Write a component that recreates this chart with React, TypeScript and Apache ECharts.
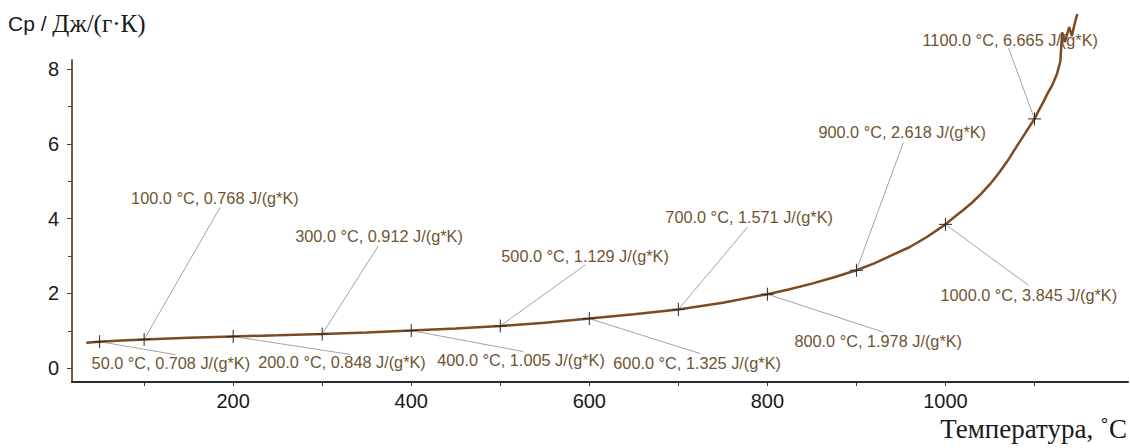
import React, { useEffect, useRef } from "react";
import * as echarts from "echarts";

// Measured heat capacity curve (temperature °C, Cp J/(g·K))
const temps = [35, 50, 75, 100, 150, 200, 250, 300, 350, 400, 450, 500, 550, 600, 650, 700, 750, 800, 825, 850, 875, 900, 920, 940, 960, 980, 1000, 1010, 1020, 1030, 1040, 1050, 1060, 1070, 1080, 1090, 1100, 1105, 1110, 1115, 1120, 1125, 1129, 1131, 1134, 1136, 1139, 1142, 1145, 1148];
const cpValues = [0.68, 0.708, 0.74, 0.768, 0.81, 0.848, 0.878, 0.912, 0.955, 1.005, 1.06, 1.129, 1.215, 1.325, 1.44, 1.571, 1.75, 1.978, 2.11, 2.26, 2.43, 2.618, 2.8, 3.02, 3.24, 3.52, 3.845, 4.04, 4.23, 4.43, 4.66, 4.92, 5.22, 5.55, 5.93, 6.3, 6.665, 6.9, 7.12, 7.36, 7.57, 7.85, 8.2, 8.98, 8.72, 8.88, 9.12, 8.88, 9.2, 9.47];

// Annotated points
const annoTemps = [50, 100, 200, 300, 400, 500, 600, 700, 800, 900, 1000, 1100];
const annoCp = [0.708, 0.768, 0.848, 0.912, 1.005, 1.129, 1.325, 1.571, 1.978, 2.618, 3.845, 6.665];

// Axis ticks / labels
const xTickValues = [100, 200, 300, 400, 500, 600, 700, 800, 900, 1000, 1100];
const xLabelValues = [200, 400, 600, 800, 1000];
const yMajorValues = [0, 2, 4, 6, 8];
const yMinorValues = [1, 3, 5, 7];

// Label layout (pixel offsets from the marker): leader end dx, dy; text left dx, middle dy
const annoLayout = [
  [76, 13, -8, 21],
  [76, -132, -13, -141],
  [117, 18, 25, 26],
  [56, -88, -27, -98],
  [112, 21, 26, 29],
  [85, -61, 1, -70],
  [111, 35, 24, 44],
  [69, -82, -13, -92],
  [116, 38, 27, 47],
  [47, -128, -38, -138],
  [83, 61, -5, 71],
  [-26, -71, -112, -79],
];

const SANS = "'Liberation Sans', Arial, sans-serif";
const SERIF = "'Liberation Serif', 'Times New Roman', serif";

export default function App() {
  const ref = useRef<HTMLDivElement>(null);
  useEffect(() => {
    if (!ref.current) return;
    const chart = echarts.init(ref.current, undefined, { renderer: "svg" });
    const curve = temps.map((t, i) => [t, cpValues[i]]);
    const anno = annoTemps.map((t, i) => [t, annoCp[i]]);
    chart.setOption({
      animation: false,
      backgroundColor: "#ffffff",
      grid: { left: 72, right: 2, top: 60, bottom: 66, containLabel: false },
      xAxis: {
        type: "value",
        min: 19,
        max: 1205,
        axisLine: { show: true, onZero: false, lineStyle: { color: "#2a2a2a", width: 2 } },
        axisTick: { show: true, customValues: xTickValues, length: 4, lineStyle: { color: "#333", width: 1 } },
        axisLabel: {
          customValues: xLabelValues,
          formatter: (v: number) => String(v),
          fontSize: 20,
          color: "#1a1a1a",
          fontFamily: SANS,
          margin: 9,
        },
        splitLine: { show: false },
      },
      yAxis: [
        {
          type: "value",
          position: "left",
          min: -0.37,
          max: 8.24,
          axisLine: { show: true, onZero: false, lineStyle: { color: "#7d5d33", width: 2 } },
          axisTick: { show: true, customValues: yMajorValues, length: 5, lineStyle: { color: "#444", width: 1 } },
          axisLabel: {
            customValues: yMajorValues,
            formatter: (v: number) => String(v),
            fontSize: 20,
            color: "#1a1a1a",
            fontFamily: SANS,
            margin: 13,
          },
          splitLine: { show: false },
        },
        {
          type: "value",
          position: "left",
          min: -0.37,
          max: 8.24,
          axisLine: { show: false, onZero: false },
          axisTick: { show: true, customValues: yMinorValues, length: 4, lineStyle: { color: "#444", width: 1 } },
          axisLabel: { show: false },
          splitLine: { show: false },
        },
      ],
      series: [
        {
          type: "line",
          data: curve,
          showSymbol: false,
          clip: false,
          lineStyle: { color: "#7d4b22", width: 2.5 },
          z: 2,
        },
        {
          type: "custom",
          data: anno,
          z: 3,
          renderItem: (params: any, api: any) => {
            const i = params.dataIndex;
            const [mx, my] = api.coord([api.value(0), api.value(1)]);
            const [ldx, ldy, tdx, tdy] = annoLayout[i];
            const t = annoTemps[i];
            const c = annoCp[i];
            return {
              type: "group",
              children: [
                {
                  type: "line",
                  shape: { x1: mx, y1: my, x2: mx + ldx, y2: my + ldy },
                  style: { stroke: "#8c8c8c", lineWidth: 0.8 },
                },
                {
                  type: "line",
                  shape: { x1: mx - 6.5, y1: my, x2: mx + 6.5, y2: my },
                  style: { stroke: "#2a2a2a", lineWidth: 1 },
                },
                {
                  type: "line",
                  shape: { x1: mx, y1: my - 6.5, x2: mx, y2: my + 6.5 },
                  style: { stroke: "#2a2a2a", lineWidth: 1 },
                },
                {
                  type: "text",
                  x: mx + tdx,
                  y: my + tdy,
                  style: {
                    text: `${t.toFixed(1)} °C, ${c.toFixed(3)} J/(g*K)`,
                    fill: "#6e5432",
                    fontSize: 16.3,
                    fontFamily: SANS,
                    align: "left",
                    verticalAlign: "middle",
                  },
                },
              ],
            };
          },
        },
      ],
      graphic: [
        {
          type: "text",
          left: 8,
          top: 11,
          style: {
            text: "{a|Cp / }{b|Дж/(г·К)}",
            rich: {
              a: { fontFamily: SANS, fontSize: 21, fill: "#1a1a1a" },
              b: { fontFamily: SERIF, fontSize: 25, fill: "#1a1a1a" },
            },
          },
        },
        {
          type: "text",
          right: 3,
          top: 415,
          style: {
            text: "Температура, ˚C",
            fontFamily: SERIF,
            fontSize: 27,
            fill: "#1a1a1a",
          },
        },
      ],
    });
    return () => chart.dispose();
  }, []);
  return (
    <div
      ref={ref}
      style={{ position: "absolute", left: 0, top: 0, width: 1130, height: 448 }}
    />
  );
}
